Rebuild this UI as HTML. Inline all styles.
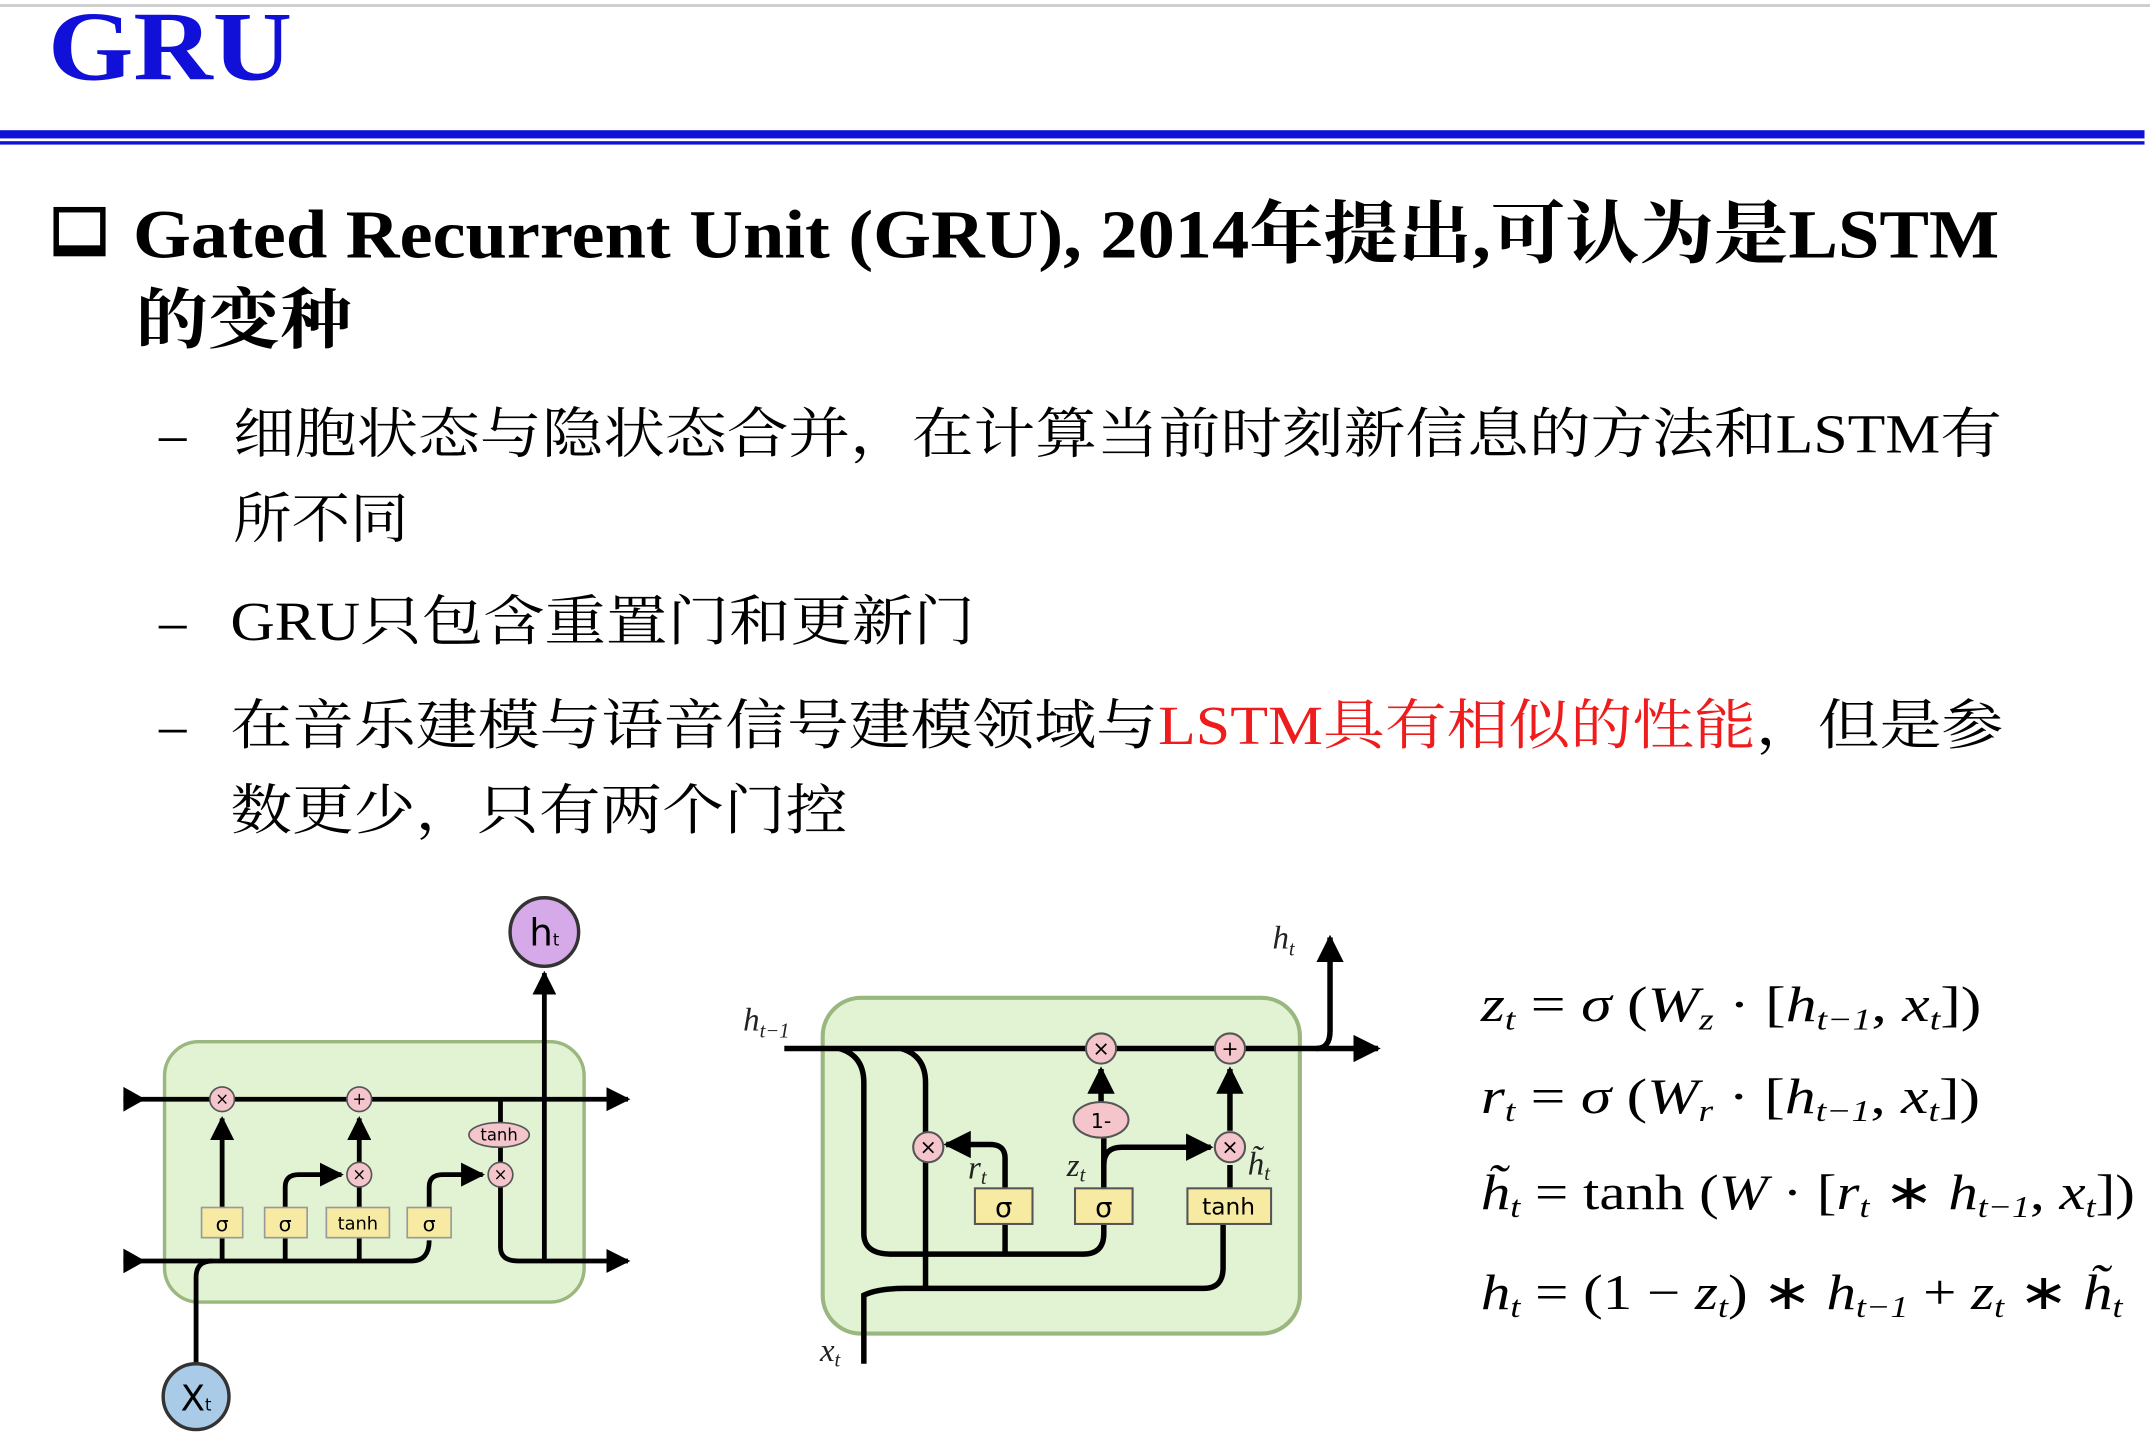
<!DOCTYPE html>
<html><head><meta charset="utf-8"><style>
html,body{margin:0;padding:0;background:#fff;width:2150px;height:1446px;overflow:hidden}
svg{display:block}
.cn{font-family:"Liberation Serif","Noto Serif CJK SC",serif}
.m{font-family:"Liberation Serif",serif;font-style:italic}
</style></head><body>
<svg width="2150" height="1446" viewBox="0 0 1568 1055" preserveAspectRatio="none" xmlns="http://www.w3.org/2000/svg">
<defs>
<marker id="a" viewBox="0 0 10 10" refX="9" refY="5" markerWidth="5" markerHeight="5" orient="auto"><path d="M0,0L10,5L0,10z" fill="#000"/></marker>
</defs>
<line x1="0" y1="4" x2="1568" y2="4" stroke="#ccc" stroke-width="2"/>
<text x="35" y="58" font-family="Liberation Serif,serif" font-weight="bold" font-size="72" fill="#1010d8" textLength="178" lengthAdjust="spacingAndGlyphs">GRU</text>
<rect x="0" y="95" width="1564" height="6" fill="#1010d8"/>
<rect x="0" y="103" width="1564" height="2.5" fill="#1010d8"/>

<rect x="41" y="153" width="34" height="32" fill="none" stroke="#000" stroke-width="4"/>
<rect x="41" y="179" width="34" height="6" fill="#000"/>
<text class="cn" x="97" y="188" font-weight="bold" font-size="50" textLength="1361" lengthAdjust="spacingAndGlyphs">Gated Recurrent Unit (GRU), 2014年提出,可认为是LSTM</text>
<text class="cn" x="99" y="250" font-weight="bold" font-size="48" textLength="158" lengthAdjust="spacingAndGlyphs">的变种</text>

<g class="cn" font-size="40">
<text x="116" y="330">–</text>
<text x="170" y="330" textLength="1290" lengthAdjust="spacingAndGlyphs">细胞状态与隐状态合并，在计算当前时刻新信息的方法和LSTM有</text>
<text x="170" y="392" textLength="128" lengthAdjust="spacingAndGlyphs">所不同</text>
<text x="116" y="467">–</text>
<text x="168" y="467" textLength="543" lengthAdjust="spacingAndGlyphs">GRU只包含重置门和更新门</text>
<text x="116" y="543">–</text>
<text x="168" y="543" textLength="1293" lengthAdjust="spacingAndGlyphs">在音乐建模与语音信号建模领域与<tspan fill="#ee1c1c">LSTM具有相似的性能</tspan>，但是参</text>
<text x="168" y="605" textLength="450" lengthAdjust="spacingAndGlyphs">数更少，只有两个门控</text>
</g>

<!-- Left diagram -->
<rect x="120" y="760" width="306" height="190" rx="25" fill="#e2f3d3" stroke="#9ab77f" stroke-width="2.5"/>
<g stroke="#000" stroke-width="3.5" fill="none">
<line x1="90" y1="802" x2="458" y2="802" marker-end="url(#a)"/>
<path d="M90,920 L300,920 Q313,920 313,905"/>
<path d="M365,866 L365,910 Q365,920 378,920 L458,920" marker-end="url(#a)"/>
<line x1="397" y1="920" x2="397" y2="710" marker-end="url(#a)"/>
<path d="M143,995 L143,932 Q143,920 155,920"/>
<line x1="162" y1="881" x2="162" y2="816" marker-end="url(#a)"/>
<path d="M208,881 L208,866 Q208,857 218,857 L249,857" marker-end="url(#a)"/>
<line x1="262" y1="881" x2="262" y2="866"/>
<line x1="262" y1="848" x2="262" y2="816" marker-end="url(#a)"/>
<path d="M313,881 L313,866 Q313,857 323,857 L352,857" marker-end="url(#a)"/>
<line x1="365" y1="848" x2="365" y2="802"/>
<line x1="162" y1="903" x2="162" y2="920"/>
<line x1="208" y1="903" x2="208" y2="920"/>
<line x1="262" y1="903" x2="262" y2="920"/>
</g>
<path d="M90,793 L106,802 L90,811z M90,911 L106,920 L90,929z" fill="#000"/>
<g fill="#f4c6cc" stroke="#555" stroke-width="1.2">
<circle cx="162" cy="802" r="9"/><circle cx="262" cy="802" r="9"/>
<circle cx="262" cy="857" r="9"/><circle cx="365" cy="857" r="9"/>
<ellipse cx="364" cy="828" rx="22" ry="9"/>
</g>
<g font-family="DejaVu Sans,sans-serif" font-size="12" text-anchor="middle">
<text x="162" y="806">×</text><text x="262" y="806">+</text><text x="262" y="861">×</text><text x="365" y="861">×</text>
<text x="364" y="832">tanh</text>
</g>
<g fill="#f7eaa3" stroke="#999" stroke-width="1.2">
<rect x="147" y="881" width="30" height="22"/><rect x="193" y="881" width="31" height="22"/>
<rect x="238" y="881" width="46" height="22"/><rect x="297" y="881" width="32" height="22"/>
</g>
<g font-family="DejaVu Sans,sans-serif" font-size="15" text-anchor="middle">
<text x="162" y="898">σ</text><text x="208" y="898">σ</text><text x="261" y="897" font-size="13">tanh</text><text x="313" y="898">σ</text>
</g>
<circle cx="397" cy="680" r="25" fill="#d6a9e9" stroke="#333" stroke-width="2.5"/>
<text x="397" y="690" font-family="DejaVu Sans,sans-serif" font-size="27" text-anchor="middle">h<tspan font-size="12">t</tspan></text>
<circle cx="143" cy="1019" r="24" fill="#a9cbe7" stroke="#333" stroke-width="2.5"/>
<text x="143" y="1029" font-family="DejaVu Sans,sans-serif" font-size="26" text-anchor="middle">X<tspan font-size="12">t</tspan></text>

<!-- Right diagram -->
<rect x="600" y="728" width="348" height="245" rx="28" fill="#e2f3d3" stroke="#9ab77f" stroke-width="3"/>
<g stroke="#000" stroke-width="4" fill="none">
<line x1="572" y1="765" x2="1005" y2="765" marker-end="url(#a)"/>
<path d="M960,765 Q970,765 970,752 L970,684" marker-end="url(#a)"/>
<path d="M612,765 Q630,770 630,790 L630,900 Q630,915 650,915 L790,915 Q805,915 805,900 L805,893"/>
<path d="M657,765 Q675,770 675,790 L675,940"/>
<path d="M733,867 L733,845 Q733,835 722,835 L690,835" marker-end="url(#a)"/>
<line x1="733" y1="893" x2="733" y2="915"/>
<line x1="805" y1="867" x2="805" y2="830"/>
<line x1="803" y1="805" x2="803" y2="780" marker-end="url(#a)"/>
<path d="M805,850 Q805,837 818,837 L883,837" marker-end="url(#a)"/>
<line x1="897" y1="867" x2="897" y2="850"/>
<line x1="897" y1="825" x2="897" y2="780" marker-end="url(#a)"/>
<path d="M630,995 L630,945 Q640,940 660,940 L878,940 Q892,940 892,925 L892,893"/>
</g>
<g fill="#f4c6cc" stroke="#555" stroke-width="1.5">
<circle cx="803" cy="765" r="11"/><circle cx="897" cy="765" r="11"/>
<circle cx="677" cy="837" r="11"/><circle cx="897" cy="837" r="11"/>
<ellipse cx="803" cy="817" rx="20" ry="13"/>
</g>
<g font-family="DejaVu Sans,sans-serif" font-size="15" text-anchor="middle">
<text x="803" y="770">×</text><text x="897" y="770">+</text><text x="677" y="842">×</text><text x="897" y="842">×</text>
<text x="803" y="823">1-</text>
</g>
<g fill="#f7eaa3" stroke="#555" stroke-width="1.5">
<rect x="711" y="867" width="42" height="26"/><rect x="784" y="867" width="42" height="26"/><rect x="866" y="867" width="61" height="26"/>
</g>
<g font-family="DejaVu Sans,sans-serif" font-size="20" text-anchor="middle">
<text x="732" y="888">σ</text><text x="805" y="888">σ</text><text x="896" y="886" font-size="17">tanh</text>
</g>
<g class="m" font-size="24" fill="#222">
<text x="542" y="752">h<tspan font-size="15" dy="5">t−1</tspan></text>
<text x="928" y="692">h<tspan font-size="15" dy="5">t</tspan></text>
<text x="706" y="860">r<tspan font-size="15" dy="4">t</tspan></text>
<text x="778" y="858">z<tspan font-size="15" dy="4">t</tspan></text>
<text x="910" y="857">h̃<tspan font-size="15" dy="4">t</tspan></text>
<text x="598" y="993">x<tspan font-size="15" dy="4">t</tspan></text>
</g>

<!-- Equations -->
<g font-family="Liberation Serif,serif" font-size="36">
<text x="1080" y="745" textLength="365" lengthAdjust="spacingAndGlyphs"><tspan font-style="italic">z</tspan><tspan font-size="22" font-style="italic" dy="6">t</tspan><tspan dy="-6"> = </tspan><tspan font-style="italic">σ</tspan> (<tspan font-style="italic">W</tspan><tspan font-size="22" font-style="italic" dy="6">z</tspan><tspan dy="-6"> · [</tspan><tspan font-style="italic">h</tspan><tspan font-size="22" font-style="italic" dy="6">t−1</tspan><tspan dy="-6">, </tspan><tspan font-style="italic">x</tspan><tspan font-size="22" font-style="italic" dy="6">t</tspan><tspan dy="-6">])</tspan></text>
<text x="1080" y="812" textLength="364" lengthAdjust="spacingAndGlyphs"><tspan font-style="italic">r</tspan><tspan font-size="22" font-style="italic" dy="6">t</tspan><tspan dy="-6"> = </tspan><tspan font-style="italic">σ</tspan> (<tspan font-style="italic">W</tspan><tspan font-size="22" font-style="italic" dy="6">r</tspan><tspan dy="-6"> · [</tspan><tspan font-style="italic">h</tspan><tspan font-size="22" font-style="italic" dy="6">t−1</tspan><tspan dy="-6">, </tspan><tspan font-style="italic">x</tspan><tspan font-size="22" font-style="italic" dy="6">t</tspan><tspan dy="-6">])</tspan></text>
<text x="1080" y="882" textLength="477" lengthAdjust="spacingAndGlyphs"><tspan font-style="italic">h̃</tspan><tspan font-size="22" font-style="italic" dy="6">t</tspan><tspan dy="-6"> = tanh (</tspan><tspan font-style="italic">W</tspan> · [<tspan font-style="italic">r</tspan><tspan font-size="22" font-style="italic" dy="6">t</tspan><tspan dy="-6"> ∗ </tspan><tspan font-style="italic">h</tspan><tspan font-size="22" font-style="italic" dy="6">t−1</tspan><tspan dy="-6">, </tspan><tspan font-style="italic">x</tspan><tspan font-size="22" font-style="italic" dy="6">t</tspan><tspan dy="-6">])</tspan></text>
<text x="1080" y="955" textLength="468" lengthAdjust="spacingAndGlyphs"><tspan font-style="italic">h</tspan><tspan font-size="22" font-style="italic" dy="6">t</tspan><tspan dy="-6"> = (1 − </tspan><tspan font-style="italic">z</tspan><tspan font-size="22" font-style="italic" dy="6">t</tspan><tspan dy="-6">) ∗ </tspan><tspan font-style="italic">h</tspan><tspan font-size="22" font-style="italic" dy="6">t−1</tspan><tspan dy="-6"> + </tspan><tspan font-style="italic">z</tspan><tspan font-size="22" font-style="italic" dy="6">t</tspan><tspan dy="-6"> ∗ </tspan><tspan font-style="italic">h̃</tspan><tspan font-size="22" font-style="italic" dy="6">t</tspan></text>
</g>
</svg>
</body></html>
